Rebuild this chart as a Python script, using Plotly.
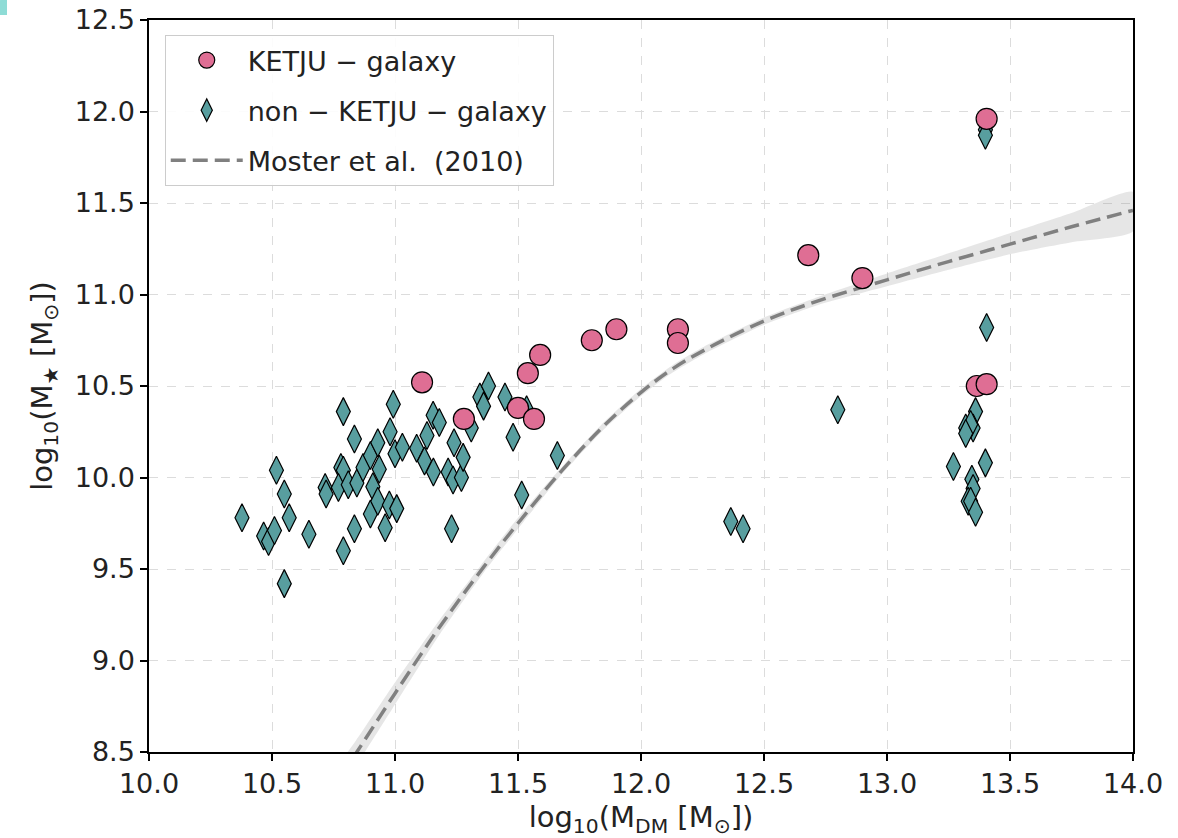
import plotly.graph_objects as go

# KETJU galaxies (circles)
ketju_x = [11.11, 11.28, 11.50, 11.54, 11.565, 11.59, 11.80, 11.90, 12.15, 12.15,
           12.68, 12.90, 13.365, 13.405, 13.405]
ketju_y = [10.52, 10.32, 10.38, 10.57, 10.32, 10.67, 10.75, 10.81, 10.81, 10.735,
           11.215, 11.09, 10.50, 10.51, 11.96]

# non-KETJU galaxies (diamonds)
non_x = [10.378, 10.518, 10.55, 10.57, 10.466, 10.486, 10.51, 10.55, 10.65, 10.79,
         10.835, 10.79, 10.835, 10.716, 10.72, 10.78, 10.79, 10.77, 10.81, 10.845,
         10.87, 10.90, 10.93, 10.91, 10.936, 10.90, 10.93, 10.96, 10.977, 11.007,
         10.98, 10.993, 11.00, 11.03, 11.088, 11.12, 11.13, 11.155, 11.18, 11.156,
         11.216, 11.236, 11.23, 11.24, 11.27, 11.277, 11.31, 11.345, 11.38, 11.36,
         11.447, 11.48, 11.515, 11.535, 11.66,
         12.365, 12.415, 12.80, 13.40, 13.40, 13.405, 13.36, 13.32, 13.35, 13.34,
         13.32, 13.27, 13.40, 13.345, 13.35, 13.33, 13.34, 13.36]
non_y = [9.78, 10.04, 9.91, 9.78, 9.68, 9.65, 9.71, 9.42, 9.69, 9.60,
         9.72, 10.36, 10.21, 9.945, 9.91, 10.055, 10.04, 9.945, 9.96, 9.97,
         10.055, 10.12, 10.19, 9.95, 10.045, 9.80, 9.87, 9.725, 9.85, 9.83,
         10.25, 10.40, 10.13, 10.165, 10.16, 10.09, 10.23, 10.34, 10.30, 10.03,
         10.03, 9.986, 9.72, 10.19, 10.0, 10.11, 10.27, 10.44, 10.50, 10.39,
         10.44, 10.22, 9.904, 10.37, 10.12,
         9.76, 9.72, 10.37, 11.90, 11.87, 10.82, 10.36, 10.27, 10.27, 10.29,
         10.24, 10.06, 10.08, 9.99, 9.94, 9.87, 9.87, 9.81]

# Moster et al. (2010) relation
moster_x = [10.78, 10.84, 11.0, 11.18, 11.36, 11.5, 11.68, 11.84, 12.0, 12.13,
            12.27, 12.5, 12.72, 13.0, 13.25, 13.5, 13.75, 14.0]
moster_y = [8.37, 8.49, 8.82, 9.18, 9.51, 9.75, 10.04, 10.27, 10.465, 10.595,
            10.705, 10.855, 10.965, 11.08, 11.18, 11.275, 11.37, 11.46]
moster_hi = [8.45, 8.56, 8.88, 9.22, 9.54, 9.78, 10.06, 10.29, 10.485, 10.615,
             10.725, 10.875, 10.987, 11.115, 11.225, 11.335, 11.445, 11.56]
moster_lo = [8.29, 8.42, 8.76, 9.14, 9.48, 9.72, 10.02, 10.25, 10.445, 10.575,
             10.685, 10.835, 10.943, 11.045, 11.135, 11.22, 11.285, 11.345]

x_ticks = [10.0, 10.5, 11.0, 11.5, 12.0, 12.5, 13.0, 13.5, 14.0]
y_ticks = [8.5, 9.0, 9.5, 10.0, 10.5, 11.0, 11.5, 12.0, 12.5]

FONT = "DejaVu Sans"
PINK = "#DF6E94"
TEAL = "#589E9F"
TXT = "#222222"

fig = go.Figure()

# shaded uncertainty band
fig.add_trace(go.Scatter(
    x=moster_x + moster_x[::-1], y=moster_hi + moster_lo[::-1],
    fill="toself", fillcolor="rgba(128,128,128,0.2)",
    line=dict(color="rgba(0,0,0,0)", width=0, shape="spline", smoothing=0.6),
    hoverinfo="skip", showlegend=False))

fig.add_trace(go.Scatter(
    x=moster_x, y=moster_y, mode="lines", name="Moster et al.  (2010)",
    line=dict(color="#808080", width=3.5, dash="15px,7px", shape="spline", smoothing=1.0),
    legendrank=3, legendgroup="c"))

fig.add_trace(go.Scatter(
    x=non_x, y=non_y, mode="markers", name="non − KETJU − galaxy",
    marker=dict(symbol="diamond-tall", size=20, color=TEAL,
                line=dict(color="black", width=1.2)),
    legendrank=2, legendgroup="b"))

fig.add_trace(go.Scatter(
    x=ketju_x, y=ketju_y, mode="markers", name="KETJU − galaxy",
    marker=dict(symbol="circle", size=21, color=PINK,
                line=dict(color="black", width=1.2)),
    legendrank=1, legendgroup="a"))

axis_common = dict(
    showline=True, linecolor="black", linewidth=1.5, mirror=True,
    ticks="outside", ticklen=7, tickwidth=1.5, tickcolor="black",
    showgrid=True, gridcolor="#dcdcdc", gridwidth=1, griddash="dash",
    zeroline=False, tickfont=dict(family=FONT, size=27, color=TXT),
    ticklabeloverflow="allow", automargin=False,
)

fig.update_xaxes(range=[10.0, 14.0], tickvals=x_ticks,
                 ticktext=[f"{v:.1f}" for v in x_ticks],
                 title=dict(text="log<sub>10</sub>(M<sub>DM</sub> [M<sub>⊙</sub>])",
                            font=dict(family=FONT, size=29, color=TXT), standoff=14),
                 **axis_common)
fig.update_yaxes(range=[8.5, 12.5], tickvals=y_ticks,
                 ticktext=[f"{v:.1f}" for v in y_ticks],
                 title=dict(text="log<sub>10</sub>(M<sub>★</sub> [M<sub>⊙</sub>])",
                            font=dict(family=FONT, size=29, color=TXT), standoff=14),
                 **axis_common)

fig.update_layout(
    width=1178, height=838,
    margin=dict(l=149, r=45, t=20, b=86),
    paper_bgcolor="white", plot_bgcolor="white",
    font=dict(family=FONT, size=27, color=TXT),
    legend=dict(x=0.016, y=0.9795, xanchor="left", yanchor="top",
                bgcolor="rgba(255,255,255,0.9)", bordercolor="#cccccc", borderwidth=1,
                font=dict(family=FONT, size=27, color=TXT),
                itemwidth=72, traceorder="grouped", tracegroupgap=12),
    shapes=[dict(type="rect", xref="paper", yref="paper",
                 x0=-0.1514, x1=-0.1443, y0=1.0068, y1=1.0273,
                 fillcolor="#8EDCD6", line=dict(width=0), layer="above")],
)

fig.write_html("out.html", config={"displayModeBar": False},
               post_script="document.body.style.margin='0';")
